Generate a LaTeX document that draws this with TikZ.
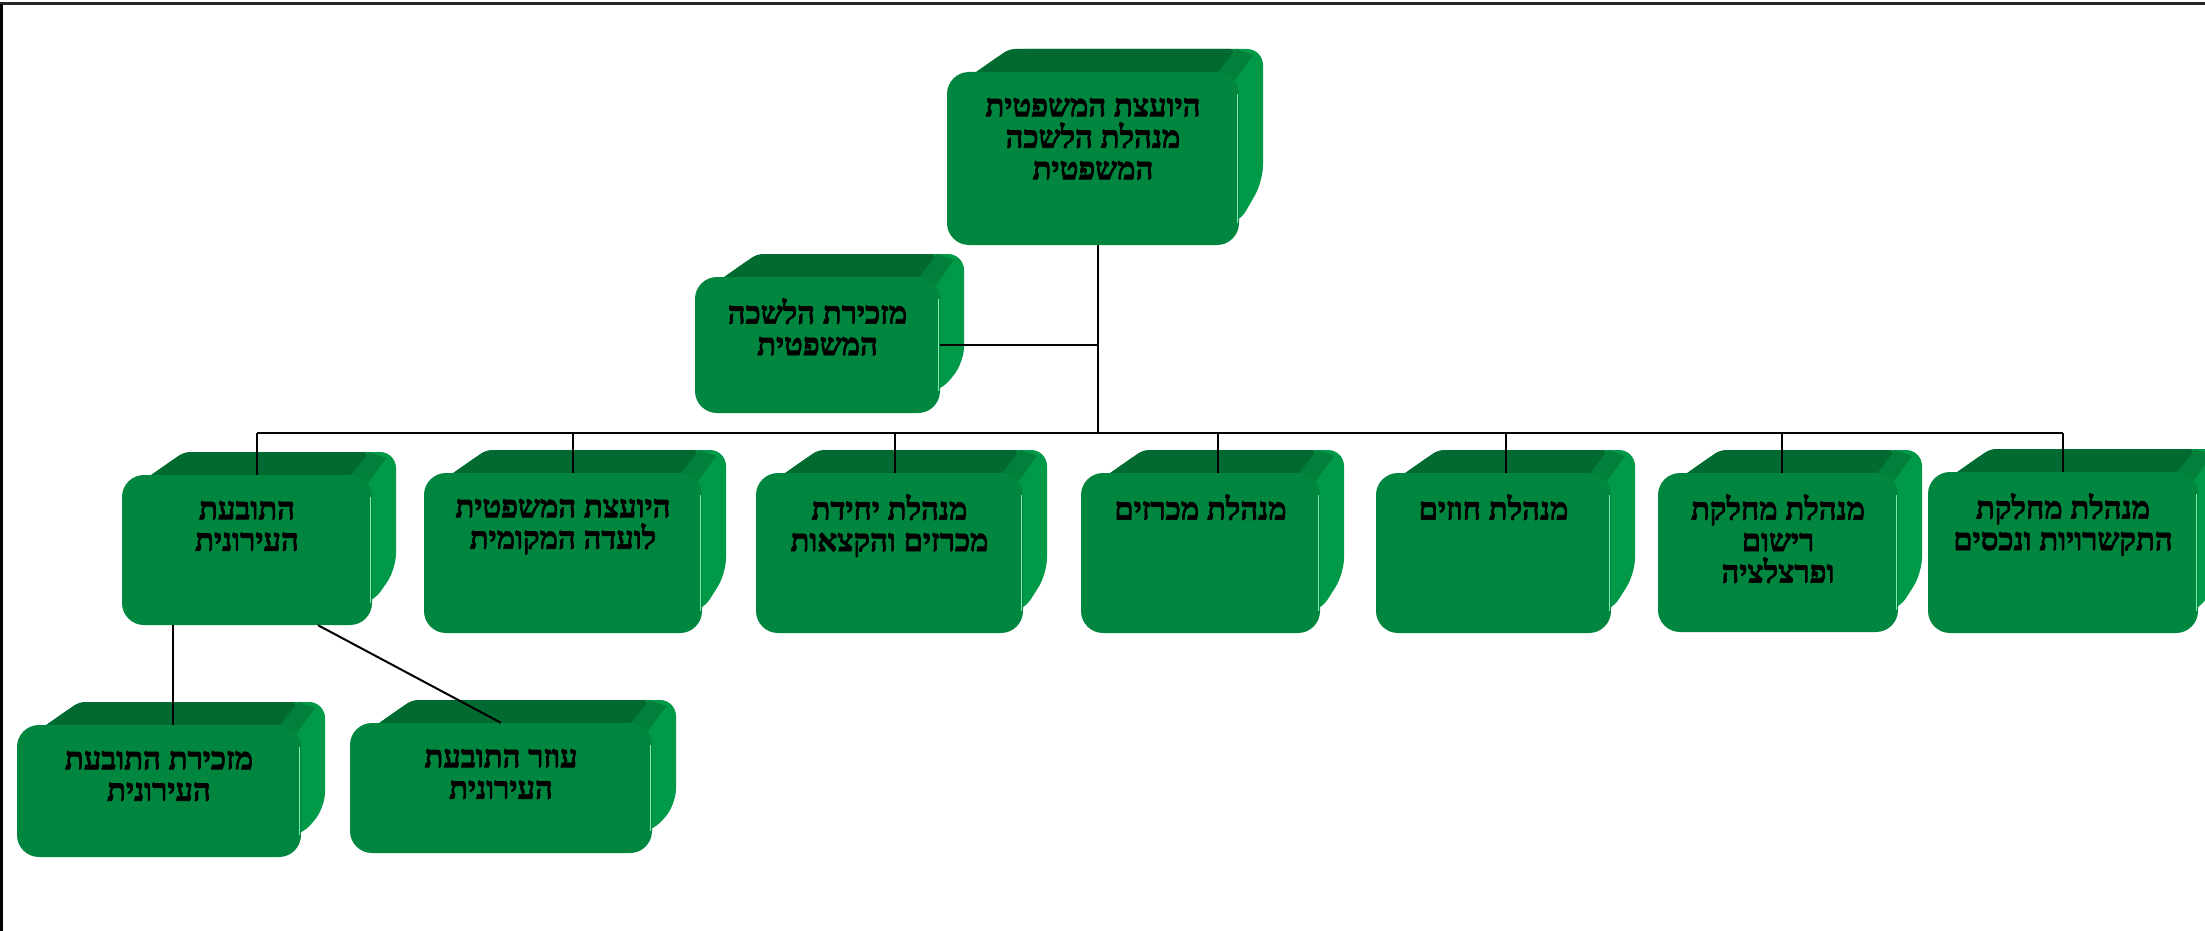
\documentclass[tikz,border=0pt]{standalone}
\usepackage{fontspec}
\newfontfamily\hebfont[Script=Hebrew,FakeBold=2.2]{Liberation Serif Bold}
\TeXXeTstate=1
\definecolor{frontg}{RGB}{0,134,62}
\definecolor{topg}{RGB}{0,106,48}
\definecolor{midg}{RGB}{0,128,58}
\definecolor{sideg}{RGB}{0,153,72}
\definecolor{hlg}{RGB}{130,235,180}
\tikzset{
  frontbox/.style={fill=frontg, rounded corners=22pt, inner sep=0pt, draw=none},
  boxtext/.style={anchor=north, align=center, inner sep=0pt, font=\hebfont\fontsize{31}{31.5}\selectfont},
  conn/.style={draw=black, line width=2pt},
}
\newcommand\hr[1]{\beginR #1\endR}
\newcommand\gbox[6]{%
 \pgfmathsetmacro\xa{#2-#4/2}%
 \pgfmathsetmacro\xb{#2+#4/2}%
 \pgfmathsetmacro\ya{#3-#5/2}%
 \pgfmathsetmacro\yb{#3+#5/2}%
 \pgfmathsetmacro\yc{#3+#5/2-0.37*#5}%
 \fill[sideg, rounded corners=16pt] (\xa+15,\ya+10) -- (\xa+62,\ya-23) -- (\xb+24,\ya-23) -- (\xb+24,\yc) -- (\xb-1,\yb-20) -- (\xb-30,\yb-20) -- (\xb-30,\ya+10) -- cycle;
 \fill[midg] (\xb-3,\ya-23) -- (\xb-24,\ya+2) -- (\xb-4,\ya+8) -- (\xb+14,\ya-17) -- cycle;
 \fill[topg, rounded corners=6pt] (\xa+15,\ya+10) -- (\xa+62,\ya-23) -- (\xb-3,\ya-23) -- (\xb-24,\ya+4) -- cycle;
 \node[frontbox, minimum width=#4pt, minimum height=#5pt] (#1) at (#2,#3) {};
 \draw[hlg, line width=1.6pt] (\xb-1.5,\ya+22) -- (\xb-1.5,\yb-22);
 \node[boxtext] (#1t) at (#2,\ya+21) {\rule{0pt}{23pt}#6};
}
\begin{document}
\begin{tikzpicture}[x=1pt,y=-1pt]
\useasboundingbox (0,0) rectangle (2205,931);
\fill[white] (0,0) rectangle (2205,931);
\draw[black!85, line width=3pt] (0,4) -- (2205,4);
\draw[black, line width=3pt] (1.5,4) -- (1.5,931);

\gbox{top}{1093}{158.5}{292}{173}{\hr{היועצת המשפטית}\\\hr{מנהלת הלשכה}\\\hr{המשפטית}}
\gbox{sec}{817.5}{345}{245}{136}{\hr{מזכירת הלשכה}\\\hr{המשפטית}}
\gbox{b1}{247}{550}{250}{150}{\hr{התובעת}\\\hr{העירונית}}
\gbox{b2}{563}{553}{278}{160}{\hr{היועצת המשפטית}\\\hr{לועדה המקומית}}
\gbox{b3}{889.5}{553}{267}{160}{\hr{מנהלת יחידת}\\\hr{מכרזים והקצאות}}
\gbox{b4}{1200.5}{553}{239}{160}{\hr{מנהלת מכרזים}}
\gbox{b5}{1493.5}{553}{235}{160}{\hr{מנהלת חוזים}}
\gbox{b6}{1778}{552.5}{240}{159}{\hr{מנהלת מחלקת}\\\hr{רישום}\\\hr{ופרצלציה}}
\gbox{b7}{2063}{552.5}{270}{161}{\hr{מנהלת מחלקת}\\\hr{התקשרויות ונכסים}}
\gbox{A}{159}{791}{284}{132}{\hr{מזכירת התובעת}\\\hr{העירונית}}
\gbox{B}{501}{788}{302}{130}{\hr{עוזר התובעת}\\\hr{העירונית}}

\coordinate (bus) at (1098,433);
\draw[conn] (top.south -| bus) -- (bus);
\draw[conn] (sec.east) -- (sec.east -| bus);
\draw[conn] ([xshift=10pt]b1.north |- bus) -- (b7.north |- bus);
\draw[conn] ([xshift=10pt]b1.north) -- ([xshift=10pt]b1.north |- bus);
\draw[conn] ([xshift=10pt]b2.north) -- ([xshift=10pt]b2.north |- bus);
\draw[conn] ([xshift=5pt]b3.north) -- ([xshift=5pt]b3.north |- bus);
\draw[conn] ([xshift=17pt]b4.north) -- ([xshift=17pt]b4.north |- bus);
\draw[conn] ([xshift=12pt]b5.north) -- ([xshift=12pt]b5.north |- bus);
\draw[conn] ([xshift=4pt]b6.north) -- ([xshift=4pt]b6.north |- bus);
\draw[conn] (b7.north) -- (b7.north |- bus);
\draw[conn] ([xshift=14pt]A.north) -- ([xshift=14pt]A.north |- b1.south);
\draw[conn] ([xshift=71pt]b1.south) -- (B.north);
\end{tikzpicture}
\end{document}
